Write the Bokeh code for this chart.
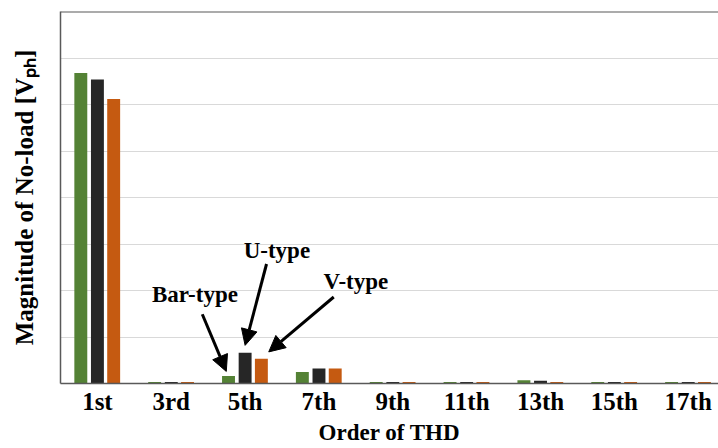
from bokeh.plotting import figure
from bokeh.models import (ColumnDataSource, FixedTicker, Span, Arrow, NormalHead,
                          LabelSet)
from bokeh.embed import file_html
from bokeh.resources import INLINE

# Harmonic orders and no-load voltage magnitudes for the three rotor types
orders = ["1st", "3rd", "5th", "7th", "9th", "11th", "13th", "15th", "17th"]
bar_type = [6.68, 0.03, 0.16, 0.25, 0.03, 0.03, 0.07, 0.03, 0.03]
u_type = [6.54, 0.03, 0.66, 0.32, 0.03, 0.03, 0.06, 0.03, 0.03]
v_type = [6.12, 0.03, 0.53, 0.32, 0.03, 0.03, 0.03, 0.03, 0.03]

series_names = ["Bar-type", "U-type", "V-type"]
colors = ["#548235", "#262626", "#C55A11"]
offsets = [-0.225, 0.0, 0.22]
bar_w = 0.175

FONT = "'Liberation Serif', 'Times New Roman', Times, serif"

centers = [i + 0.5 for i in range(len(orders))]

p = figure(width=718, height=448, x_range=(0, 8.91), y_range=(0, 8),
           output_backend="svg", toolbar_location=None,
           min_border_left=60, min_border_right=0, min_border_top=11,
           min_border_bottom=65)

p.background_fill_color = "white"
p.border_fill_color = "white"
p.outline_line_color = None

for vals, col, off in zip([bar_type, u_type, v_type], colors, offsets):
    src = ColumnDataSource(dict(x=[c + off for c in centers], top=vals))
    p.vbar(x="x", top="top", bottom=0, width=bar_w, source=src,
           fill_color=col, line_color=None)

# Axes
p.xaxis.ticker = FixedTicker(ticks=centers)
p.xaxis.major_label_overrides = {c: o for c, o in zip(centers, orders)}
p.xaxis.major_label_text_font = FONT
p.xaxis.major_label_text_font_style = "bold"
p.xaxis.major_label_text_font_size = "25px"
p.xaxis.major_label_text_color = "black"
p.xaxis.major_label_standoff = 4
p.xaxis.major_tick_line_color = None
p.xaxis.major_tick_out = 0
p.xaxis.minor_tick_line_color = None
p.xaxis.axis_line_color = "#595959"
p.xaxis.axis_line_width = 1.5
p.xaxis.axis_label = "Order of THD"
p.xaxis.axis_label_text_font = FONT
p.xaxis.axis_label_text_font_style = "bold"
p.xaxis.axis_label_text_font_size = "23px"
p.xaxis.axis_label_text_color = "black"
p.xaxis.axis_label_standoff = 2

p.yaxis.ticker = FixedTicker(ticks=list(range(0, 9)))
p.yaxis.major_label_text_font_size = "0px"
p.yaxis.major_tick_line_color = None
p.yaxis.major_tick_out = 0
p.yaxis.minor_tick_line_color = None
p.yaxis.axis_line_color = "#595959"
p.yaxis.axis_line_width = 1.5
p.yaxis.axis_label = "Magnitude of No-load [V\u209a\u2095]"
p.yaxis.axis_label_text_font = FONT
p.yaxis.axis_label_text_font_style = "bold"
p.yaxis.axis_label_text_font_size = "25px"
p.yaxis.axis_label_text_color = "black"
p.yaxis.axis_label_standoff = 23

p.xgrid.grid_line_color = None
p.ygrid.grid_line_color = "#d9d9d9"
p.ygrid.grid_line_width = 1

# Top border of the plot area
p.add_layout(Span(location=8, dimension="width", line_color="#595959",
                  line_width=2))

# Callouts pointing at the 5th harmonic bars
k = orders.index("5th")
tips_x = [centers[k] + offsets[0] - 0.03, centers[k] + offsets[1],
          centers[k] + offsets[2] + 0.1]
tips_y = [bar_type[k] + 0.1, u_type[k] + 0.16, v_type[k] + 0.15]
starts_x = [1.92, 2.79, 3.70]
starts_y = [1.49, 2.57, 1.86]
for sx, sy, tx, ty in zip(starts_x, starts_y, tips_x, tips_y):
    p.add_layout(Arrow(x_start=sx, y_start=sy, x_end=tx, y_end=ty,
                       line_color="black", line_width=3,
                       end=NormalHead(size=16, fill_color="black",
                                      line_color="black")))

label_src = ColumnDataSource(dict(x=[1.82, 2.93, 4.0], y=[1.92, 2.87, 2.2],
                                  text=series_names))
p.add_layout(LabelSet(x="x", y="y", text="text", source=label_src,
                      text_font=FONT, text_font_style="bold",
                      text_font_size="23px", text_color="black",
                      text_align="center", text_baseline="middle"))

open("out.html", "w").write(file_html(p, INLINE))
